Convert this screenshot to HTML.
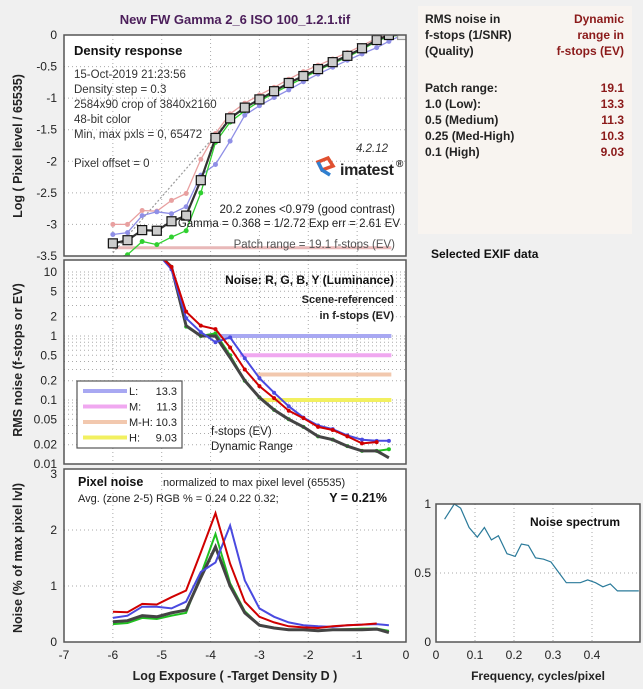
<!DOCTYPE html>
<html><head><meta charset="utf-8"><style>
body{margin:0;background:#f0f0f0;font-family:"Liberation Sans",sans-serif;}
svg{display:block}
text{font-family:"Liberation Sans",sans-serif;}
</style></head><body>
<svg id="c" width="643" height="689" viewBox="0 0 643 689" xmlns="http://www.w3.org/2000/svg">
<rect x="0" y="0" width="643" height="689" fill="#f0f0f0"/>
<text x="235" y="24" text-anchor="middle" font-size="13" font-weight="bold" fill="#4b1e5a">New FW Gamma 2_6 ISO 100_1.2.1.tif</text>
<g>
<rect x="418" y="6" width="214" height="228" fill="#f8f4f0"/>
<g font-size="12" font-weight="bold" fill="#222">
<text x="425" y="23">RMS noise in</text>
<text x="425" y="39">f-stops (1/SNR)</text>
<text x="425" y="55">(Quality)</text>
<text x="425" y="92">Patch range:</text>
<text x="425" y="108">1.0   (Low):</text>
<text x="425" y="124">0.5   (Medium)</text>
<text x="425" y="140">0.25 (Med-High)</text>
<text x="425" y="156">0.1   (High)</text>
</g>
<g font-size="12" font-weight="bold" fill="#8b1a1a" text-anchor="end">
<text x="624" y="23">Dynamic</text>
<text x="624" y="39">range in</text>
<text x="624" y="55">f-stops (EV)</text>
<text x="624" y="92">19.1</text>
<text x="624" y="108">13.3</text>
<text x="624" y="124">11.3</text>
<text x="624" y="140">10.3</text>
<text x="624" y="156">9.03</text>
</g>
<text x="431" y="258" font-size="12" font-weight="bold" fill="#111">Selected EXIF data</text>
</g>
</svg>
<script>
// ---- data ----
const patchX = [-6.0,-5.7,-5.4,-5.1,-4.8,-4.5,-4.2,-3.9,-3.6,-3.3,-3.0,-2.7,-2.4,-2.1,-1.8,-1.5,-1.2,-0.9,-0.6,-0.35,-0.08];
const densY = [-3.30,-3.25,-3.09,-3.10,-2.95,-2.86,-2.30,-1.63,-1.32,-1.15,-1.02,-0.89,-0.76,-0.65,-0.54,-0.43,-0.33,-0.21,-0.08,0,0];
const densR = [-3.0,-3.0,-2.78,-2.79,-2.62,-2.51,-1.97,-1.56,-1.25,-1.08,-0.95,-0.83,-0.70,-0.58,-0.48,-0.38,-0.28,-0.17,-0.05,0,0];
const densB = [-3.16,-3.13,-2.86,-2.80,-2.83,-2.72,-2.22,-2.05,-1.68,-1.27,-1.12,-0.99,-0.87,-0.74,-0.62,-0.51,-0.40,-0.30,-0.2,-0.1,0];
const densG = [-3.55,-3.48,-3.27,-3.32,-3.2,-3.1,-2.5,-1.7,-1.38,-1.2,-1.05,-0.92,-0.80,-0.68,-0.56,-0.45,-0.35,-0.23,-0.1,-0.02,0];
const fitLine = [[-6.0,-3.45],[-3.6,-1.32]];
const densTicks = [0,-0.5,-1,-1.5,-2,-2.5,-3,-3.5];
const noiseR = [40,30,25,20,12,2.4,1.45,1.28,0.66,0.30,0.165,0.107,0.068,0.052,0.038,0.034,0.027,0.021,0.022];
const noiseB = [40,30,25,20,11,1.9,1.15,0.8,0.95,0.45,0.22,0.13,0.08,0.053,0.04,0.035,0.028,0.024,0.023,0.023];
const noiseG = [40,30,25,20,12,1.4,1.0,1.1,0.5,0.2,0.11,0.07,0.05,0.038,0.027,0.024,0.019,0.016,0.016,0.017];
const noiseY = [40,30,25,20,12,1.45,1.0,1.0,0.46,0.2,0.11,0.07,0.05,0.038,0.027,0.024,0.019,0.016,0.016,0.0125];
const thresholds = [1.0,0.5,0.25,0.1];
const thresholdStart = [-3.95,-3.4,-3.05,-2.93];
const legendLabels = ["L:","M:","M-H:","H:"];
const legendValues = ["13.3","11.3","10.3","9.03"];
const noiseTicks = [10,5,2,1,0.5,0.2,0.1,0.05,0.02,0.01];
const noiseTickLabels = ["10","5","2","1","0.5","0.2","0.1","0.05","0.02","0.01"];
const pixR = [0.54,0.53,0.68,0.67,0.8,0.92,1.6,2.3,1.4,0.72,0.45,0.35,0.28,0.26,0.25,0.28,0.3,0.31,0.33];
const pixB = [0.43,0.47,0.63,0.63,0.6,0.72,1.25,1.42,2.08,1.1,0.6,0.45,0.35,0.3,0.28,0.27,0.3,0.31,0.32,0.3];
const pixG = [0.32,0.34,0.43,0.41,0.47,0.52,1.2,1.93,1.05,0.55,0.3,0.25,0.22,0.22,0.2,0.22,0.23,0.24,0.24,0.2];
const pixY = [0.36,0.38,0.47,0.45,0.52,0.57,1.15,1.7,1.0,0.52,0.3,0.25,0.22,0.22,0.2,0.22,0.22,0.22,0.23,0.17];
const pixTicks = [0,1,2,3];
const xTicks = [-7,-6,-5,-4,-3,-2,-1,0];
const specF = [0.022,0.047,0.063,0.085,0.106,0.124,0.142,0.16,0.182,0.203,0.219,0.237,0.255,0.276,0.295,0.313,0.334,0.352,0.37,0.389,0.409,0.428,0.447,0.465,0.486,0.52];
const specV = [0.89,1.0,0.97,0.83,0.76,0.83,0.74,0.77,0.64,0.62,0.71,0.70,0.61,0.60,0.58,0.51,0.43,0.43,0.43,0.45,0.43,0.40,0.42,0.37,0.37,0.37];
const specXTicks = [0,0.1,0.2,0.3,0.4];
const specYTicks = [0,0.5,1];

// ---- helpers ----
const svg = document.getElementById('c');
const NS = 'http://www.w3.org/2000/svg';
function mk(tag, attrs, parent){const e=document.createElementNS(NS,tag);for(const k in attrs)e.setAttribute(k,attrs[k]);(parent||svg).appendChild(e);return e;}
function txt(x,y,s,attrs,parent){const e=mk('text',Object.assign({x:x,y:y,'font-size':12,fill:'#333'},attrs||{}),parent);e.textContent=s;return e;}
const L=64,R=406;
const sx = v => L + (v+7)/7*(R-L);
const P1={t:35,b:256}; const y1 = v => P1.t + (-v)/3.5*(P1.b-P1.t);
const P2={t:260,b:464}; const y2 = v => 336 - 64*Math.log10(v);
const P3={t:469,b:642}; const y3 = v => 642 - v*56;
const S={l:436,r:640,t:504,b:642}; const sfx = f => 436 + f*390; const sfy = v => 642 - v*138;

function box(x,y,w,h,name){const r=mk('rect',{x:x,y:y,width:w,height:h,fill:'#fff',stroke:'none'});return r;}
function frame(x,y,w,h,name){const r=mk('rect',{x:x,y:y,width:w,height:h,fill:'none',stroke:'#555','stroke-width':1.5});return r;}
function grid(x1,y1_,x2,y2_,g){return mk('line',{x1:x1,y1:y1_,x2:x2,y2:y2_,stroke:'#aaa','stroke-width':1,'stroke-dasharray':'1,3'},g);}
function poly(xs,ys,fx,fy,attrs,name,g){const pts=xs.slice(0,ys.length).map((x,i)=>fx(x).toFixed(1)+','+fy(ys[i]).toFixed(1)).join(' ');const p=mk('polyline',Object.assign({points:pts,fill:'none'},attrs),g);return p;}
function dots(xs,ys,fx,fy,color,r,name,g){ys.forEach((v,i)=>{const c=mk('circle',{cx:fx(xs[i]),cy:fy(v),r:r,fill:color},g);});}

// ================= Panel 1 : density =================
box(L,P1.t,R-L,P1.b-P1.t,'density-plot-area');
const g1=mk('g',{});  
xTicks.slice(1,-1).forEach(v=>grid(sx(v),P1.t,sx(v),P1.b,g1));
densTicks.slice(1,-1).forEach(v=>grid(L,y1(v),R,y1(v),g1));
densTicks.forEach(v=>{const t=txt(57,y1(v)+4,String(v),{'text-anchor':'end','font-size':12,fill:'#222'});});
const cp1=mk('clipPath',{id:'cp1'});mk('rect',{x:L,y:P1.t,width:R-L,height:P1.b-P1.t},cp1);
const gd=mk('g',{'clip-path':'url(#cp1)'});  
const pr=mk('line',{x1:sx(-6),y1:y1(-3.37),x2:sx(-0.3),y2:y1(-3.37),stroke:'#e8b8b8','stroke-width':3},gd);


poly(fitLine.map(p=>p[0]),fitLine.map(p=>p[1]),sx,y1,{stroke:'#999','stroke-width':1.2,'stroke-dasharray':'2,2'},'gamma-fit-line',gd);
poly(patchX,densR,sx,y1,{stroke:'#e8a0a0','stroke-width':1.3},'density-red-line',gd);
dots(patchX,densR,sx,y1,'#e8a0a0',2.5,'density-red-point',gd);
poly(patchX,densB,sx,y1,{stroke:'#8f8fe6','stroke-width':1.3},'density-blue-line',gd);
dots(patchX,densB,sx,y1,'#8f8fe6',2.5,'density-blue-point',gd);
poly(patchX,densG,sx,y1,{stroke:'#30d030','stroke-width':1.3},'density-green-line',gd);
dots(patchX,densG,sx,y1,'#30d030',2.5,'density-green-point',gd);
poly(patchX,densY,sx,y1,{stroke:'#333','stroke-width':2.2},'density-luminance-line',gd);
densY.forEach((v,i)=>{const s=mk('rect',{x:sx(patchX[i])-4.5,y:y1(v)-4.5,width:9,height:9,fill:i==densY.length-1?'#eee':'#ccc',stroke:i==densY.length-1?'#999':'#111','stroke-width':1.2},gd);});
frame(L,P1.t,R-L,P1.b-P1.t,'density-plot-frame');
[['Density response',74,55,{'font-weight':'bold','font-size':13,fill:'#111'},'density-title'],
 ['15-Oct-2019 21:23:56',74,78,{},'date-text'],['Density step = 0.3',74,93,{},'density-step-text'],
 ['2584x90 crop of 3840x2160',74,108,{},'crop-text'],['48-bit color',74,123,{},'bit-depth-text'],
 ['Min, max pxls = 0, 65472',74,138,{},'min-max-text'],['Pixel offset = 0',74,167,{},'pixel-offset-text'],
 ['4.2.12',388,152,{'font-style':'italic','text-anchor':'end'},'version-text'],
 ['20.2 zones <0.979 (good contrast)',395,213,{'text-anchor':'end',fill:'#222'},'zones-text'],
 ['Gamma = 0.368 = 1/2.72  Exp err = 2.61 EV',400,227,{'text-anchor':'end',fill:'#222'},'gamma-text'],
 ['Patch range = 19.1 f-stops (EV)',395,248,{'text-anchor':'end',fill:'#555'},'patch-range-text']
].forEach(a=>{const t=txt(a[1],a[2],a[0],Object.assign({'font-size':11.5},a[3]));});
const lg=mk('g',{});  
mk('path',{d:'M318 162 L328 158 L333 166 L322 170 Z',fill:'none',stroke:'#e05030','stroke-width':3.5},lg);
mk('path',{d:'M318 162 L322 170 L330 175',fill:'none',stroke:'#3080d0','stroke-width':3.5},lg);
txt(340,175,'imatest',{'font-size':16,'font-weight':'bold',fill:'#222',textLength:'54'},lg);
txt(396,167,'®',{'font-size':10,'font-weight':'bold',fill:'#222'},lg);
const yt1=txt(0,0,'Log ( Pixel level / 65535)',{'font-size':12.5,'font-weight':'bold',fill:'#222','text-anchor':'middle',transform:'translate(22,146) rotate(-90)'});
 

// ================= Panel 2 : noise =================
box(L,P2.t,R-L,P2.b-P2.t,'noise-plot-area');
const g2=mk('g',{});  
xTicks.slice(1,-1).forEach(v=>grid(sx(v),P2.t,sx(v),P2.b,g2));
[0.01,0.1,1,10].forEach(d=>{for(let k=1;k<10;k++){const v=d*k;const yy=y2(v);if(yy>P2.t&&yy<P2.b)grid(L,yy,R,yy,g2);}});
noiseTicks.forEach((v,i)=>{const t=txt(57,y2(v)+4,noiseTickLabels[i],{'text-anchor':'end','font-size':12,fill:'#222'});});
const cp2=mk('clipPath',{id:'cp2'});mk('rect',{x:L,y:P2.t,width:R-L,height:P2.b-P2.t},cp2);
const gn=mk('g',{'clip-path':'url(#cp2)'});  
const thColors=['#a8a8f2','#f0a8f0','#f2c8ae','#f2f060'];
thresholds.forEach((v,i)=>{const l=mk('line',{x1:sx(thresholdStart[i]),y1:y2(v),x2:sx(-0.3),y2:y2(v),stroke:thColors[i],'stroke-width':4},gn);});
poly(patchX,noiseG,sx,y2,{stroke:'#20c020','stroke-width':2},'noise-green-line',gn); dots(patchX,noiseG,sx,y2,'#20c020',2,'noise-green-point',gn);
poly(patchX,noiseY,sx,y2,{stroke:'#444','stroke-width':3},'noise-luminance-line',gn);
poly(patchX,noiseB,sx,y2,{stroke:'#4a4ae0','stroke-width':2},'noise-blue-line',gn); dots(patchX,noiseB,sx,y2,'#4a4ae0',2,'noise-blue-point',gn);
poly(patchX,noiseR,sx,y2,{stroke:'#d00000','stroke-width':2},'noise-red-line',gn); dots(patchX,noiseR,sx,y2,'#d00000',2,'noise-red-point',gn);
frame(L,P2.t,R-L,P2.b-P2.t,'noise-plot-frame');
[['Noise: R, G, B, Y (Luminance)',394,284,{'text-anchor':'end','font-weight':'bold',fill:'#111'},'noise-title'],
 ['Scene-referenced',394,303,{'text-anchor':'end','font-weight':'bold','font-size':11,fill:'#222'},'scene-ref-text'],
 ['in f-stops (EV)',394,319,{'text-anchor':'end','font-weight':'bold','font-size':11,fill:'#222'},'fstops-text'],
 ['f-stops (EV)',211,435,{'font-size':11.5,fill:'#222'},'dr-label-1'],['Dynamic Range',211,450,{'font-size':11.5,fill:'#222'},'dr-label-2']
].forEach(a=>{const t=txt(a[1],a[2],a[0],Object.assign({'font-size':12},a[3]));});
const lgd=mk('g',{});  
mk('rect',{x:77,y:381,width:105,height:67,fill:'#fff',stroke:'#555','stroke-width':1.2},lgd);
legendLabels.forEach((s,i)=>{const yy=391+i*15.5;
 const ll=mk('line',{x1:83,y1:yy,x2:127,y2:yy,stroke:thColors[i],'stroke-width':4},lgd);
 const a=txt(129,yy+4,s,{'font-size':11,fill:'#222'},lgd);
 const b=txt(177,yy+4,legendValues[i],{'font-size':11,fill:'#222','text-anchor':'end'},lgd);});
const yt2=txt(0,0,'RMS noise (f-stops or EV)',{'font-size':12.5,'font-weight':'bold',fill:'#222','text-anchor':'middle',transform:'translate(22,360) rotate(-90)'});
 

// ================= Panel 3 : pixel noise =================
box(L,P3.t,R-L,P3.b-P3.t,'pixel-noise-plot-area');
const g3=mk('g',{});  
xTicks.slice(1,-1).forEach(v=>grid(sx(v),P3.t,sx(v),P3.b,g3));
pixTicks.slice(1,-1).forEach(v=>grid(L,y3(v),R,y3(v),g3));
pixTicks.forEach(v=>{const t=txt(57,y3(v)+4,String(v),{'text-anchor':'end','font-size':12,fill:'#222'});});
xTicks.forEach(v=>{const t=txt(sx(v),659,String(v),{'text-anchor':'middle','font-size':12,fill:'#222'});});
const gp=mk('g',{});  
poly(patchX,pixG,sx,y3,{stroke:'#20c020','stroke-width':2},'pixel-green-line',gp);
poly(patchX,pixY,sx,y3,{stroke:'#444','stroke-width':3},'pixel-luminance-line',gp);
poly(patchX,pixB,sx,y3,{stroke:'#4a4ae0','stroke-width':2},'pixel-blue-line',gp);
poly(patchX,pixR,sx,y3,{stroke:'#d00000','stroke-width':2},'pixel-red-line',gp);
frame(L,P3.t,R-L,P3.b-P3.t,'pixel-noise-plot-frame');
[['Pixel noise',78,486,{'font-weight':'bold','font-size':12.5,fill:'#111'},'pixel-noise-title'],
 ['normalized to max pixel level (65535)',163,486,{'font-size':11,fill:'#222'},'normalized-text'],
 ['Avg. (zone 2-5) RGB % = 0.24  0.22  0.32;',78,502,{'font-size':11,fill:'#222'},'avg-rgb-text'],
 ['Y = 0.21%',387,502,{'font-weight':'bold','font-size':12.5,fill:'#111','text-anchor':'end'},'y-noise-text']
].forEach(a=>{const t=txt(a[1],a[2],a[0],a[3]);});
const yt3=txt(0,0,'Noise (% of max pixel lvl)',{'font-size':12.5,'font-weight':'bold',fill:'#222','text-anchor':'middle',transform:'translate(22,558) rotate(-90)'});
 
const xt=txt(235,680,'Log Exposure ( -Target Density D )',{'font-size':12.5,'font-weight':'bold',fill:'#222','text-anchor':'middle'});
 

// ================= Noise spectrum =================
box(S.l,S.t,S.r-S.l,S.b-S.t,'spectrum-plot-area');
const g4=mk('g',{});  
specXTicks.slice(1).forEach(v=>grid(sfx(v),S.t,sfx(v),S.b,g4));
grid(S.l,sfy(0.5),S.r,sfy(0.5),g4);
specXTicks.forEach(v=>{const t=txt(sfx(v),659,String(v),{'text-anchor':'middle','font-size':12,fill:'#222'});});
specYTicks.forEach(v=>{const t=txt(431,sfy(v)+4,String(v),{'text-anchor':'end','font-size':12,fill:'#222'});});
const cp4=mk('clipPath',{id:'cp4'});mk('rect',{x:S.l,y:S.t-2,width:S.r-S.l,height:S.b-S.t+2},cp4);
const gs=mk('g',{'clip-path':'url(#cp4)'});  
poly(specF,specV,sfx,sfy,{stroke:'#2a7a9a','stroke-width':1.2},'noise-spectrum-line',gs);
frame(S.l,S.t,S.r-S.l,S.b-S.t,'spectrum-plot-frame');
const st=txt(575,526,'Noise spectrum',{'font-size':12,'font-weight':'bold',fill:'#111','text-anchor':'middle'});
 
const sxt=txt(538,680,'Frequency, cycles/pixel',{'font-size':12,'font-weight':'bold',fill:'#222','text-anchor':'middle'});
 
</script>
</body></html>
